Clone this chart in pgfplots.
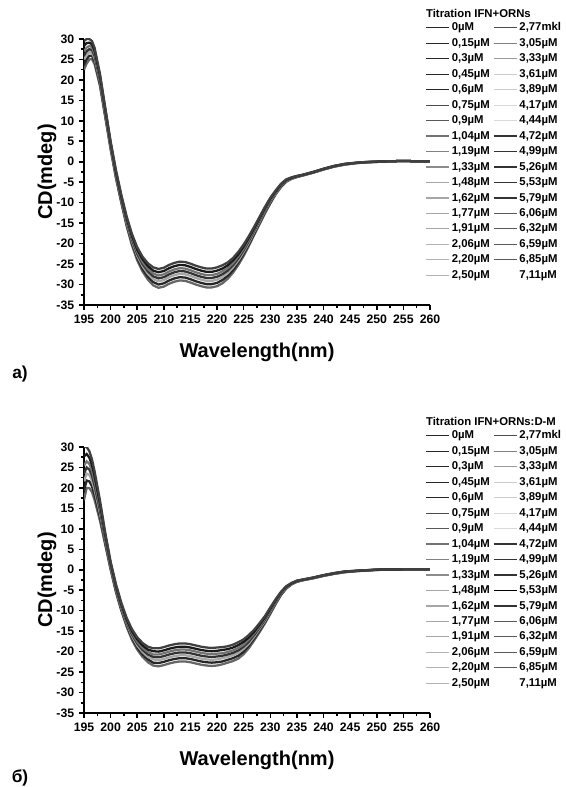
\documentclass[border=0pt]{standalone}
\usepackage{fontspec}
\setmainfont{Liberation Sans}
\usepackage{pgfplots}
\usepackage{pgfplotstable}
\pgfplotsset{compat=1.18}

% CD spectra, panel a (IFN+ORNs) -- 7 traces of the titration band
\pgfplotstableread{
x     a1     a2     a3     a4     a5     a6     a7
195   22.5   23.7   25.0   26.0   27.0   28.3   29.5
195.5 24.0   25.1   26.1   27.0   27.9   29.0   30.0
196   25.0   25.9   26.8   27.5   28.3   29.1   30.0
196.5 25.1   25.9   26.6   27.3   28.0   28.7   29.5
197   23.8   24.5   25.2   25.8   26.4   27.1   27.8
198   18.5   19.0   19.6   20.0   20.5   21.0   21.5
199   10.8   11.2   11.6   12.0   12.4   12.8   13.2
200    3.0    3.4    3.7    4.0    4.3    4.7    5.0
201   -4.0   -3.7   -3.3   -3.0   -2.7   -2.4   -2.0
202  -10.0   -9.7   -9.3   -9.0   -8.7   -8.4   -8.0
203  -15.7  -15.3  -14.9  -14.5  -14.1  -13.7  -13.3
204  -20.4  -19.9  -19.4  -19.0  -18.6  -18.1  -17.6
205  -24.1  -23.5  -23.0  -22.5  -22.0  -21.5  -20.9
206  -26.8  -26.2  -25.5  -25.0  -24.5  -23.8  -23.2
207  -28.8  -28.1  -27.4  -26.8  -26.2  -25.5  -24.8
208  -30.2  -29.4  -28.7  -28.0  -27.3  -26.6  -25.8
209  -30.8  -30.0  -29.2  -28.5  -27.8  -27.0  -26.2
210  -30.5  -29.7  -28.9  -28.2  -27.5  -26.7  -25.9
211  -29.8  -29.0  -28.2  -27.5  -26.8  -26.0  -25.2
212  -29.3  -28.5  -27.7  -27.0  -26.3  -25.5  -24.7
213  -29.0  -28.2  -27.4  -26.7  -26.0  -25.2  -24.4
214  -29.1  -28.3  -27.5  -26.8  -26.1  -25.3  -24.5
215  -29.5  -28.7  -27.9  -27.2  -26.5  -25.7  -24.9
216  -30.0  -29.2  -28.4  -27.7  -27.0  -26.2  -25.4
217  -30.4  -29.6  -28.8  -28.1  -27.4  -26.6  -25.8
218  -30.7  -29.9  -29.1  -28.4  -27.7  -26.9  -26.1
219  -30.7  -29.9  -29.1  -28.4  -27.7  -26.9  -26.1
220  -30.4  -29.6  -28.8  -28.1  -27.4  -26.6  -25.8
221  -29.7  -28.9  -28.2  -27.5  -26.8  -26.1  -25.3
222  -28.6  -27.9  -27.2  -26.6  -26.0  -25.3  -24.6
223  -27.1  -26.5  -25.8  -25.3  -24.8  -24.1  -23.5
224  -25.2  -24.6  -24.1  -23.6  -23.1  -22.6  -22.0
225  -23.0  -22.5  -22.0  -21.6  -21.2  -20.7  -20.2
226  -20.5  -20.1  -19.7  -19.3  -18.9  -18.5  -18.1
227  -17.8  -17.5  -17.1  -16.8  -16.5  -16.2  -15.8
228  -15.2  -14.9  -14.6  -14.3  -14.0  -13.7  -13.4
229  -12.6  -12.3  -12.0  -11.8  -11.6  -11.3  -11.0
230  -10.2  -10.0   -9.7   -9.5   -9.3   -9.0   -8.8
231   -8.0   -7.8   -7.7   -7.5   -7.3   -7.2   -7.0
232   -6.2   -6.1   -5.9   -5.8   -5.7   -5.5   -5.4
233   -4.9   -4.8   -4.7   -4.6   -4.5   -4.4   -4.3
234   -4.2   -4.1   -4.1   -4.0   -3.9   -3.9   -3.8
235   -3.75  -3.7   -3.65  -3.6   -3.55  -3.5   -3.45
236   -3.4   -3.37  -3.33  -3.3   -3.27  -3.23  -3.2
238   -2.7   -2.67  -2.63  -2.6   -2.57  -2.53  -2.5
240   -1.9   -1.87  -1.83  -1.8   -1.77  -1.73  -1.7
242   -1.2   -1.17  -1.13  -1.1   -1.07  -1.03  -1.0
244   -0.7   -0.67  -0.63  -0.6   -0.57  -0.53  -0.5
246   -0.35  -0.33  -0.32  -0.3   -0.28  -0.27  -0.25
248   -0.15  -0.13  -0.12  -0.1   -0.08  -0.07  -0.05
250   -0.05  -0.03  -0.02   0.0    0.02   0.03   0.05
252    0.1    0.1    0.1    0.1    0.1    0.1    0.1
255    0.2    0.2    0.2    0.2    0.2    0.2    0.2
258    0.1    0.1    0.1    0.1    0.1    0.1    0.1
260    0.1    0.1    0.1    0.1    0.1    0.1    0.1
}\tabA

% panel b (IFN+ORNs:D-M)
\pgfplotstableread{
x     a1     a2     a3     a4     a5     a6     a7
195   17.0   19.3   21.6   23.5   25.5   27.7   30.0
195.5 20.0   21.8   23.5   25.0   26.5   28.3   30.0
196   20.0   21.6   23.2   24.5   25.9   27.4   29.0
196.5 19.0   20.4   21.8   23.0   24.2   25.6   27.0
197   17.0   18.2   19.5   20.5   21.6   22.8   24.0
198   12.0   12.9   13.8   14.5   15.3   16.1   17.0
199    6.0    6.5    7.1    7.5    8.0    8.5    9.0
200    0.0    0.4    0.7    1.0    1.3    1.7    2.0
201   -5.5   -5.2   -4.8   -4.5   -4.2   -3.9   -3.5
202  -10.0   -9.7   -9.3   -9.0   -8.7   -8.4   -8.0
203  -13.9  -13.5  -13.1  -12.8  -12.5  -12.1  -11.7
204  -17.1  -16.6  -16.2  -15.8  -15.4  -15.0  -14.5
205  -19.5  -19.0  -18.5  -18.0  -17.6  -17.0  -16.5
206  -21.3  -20.7  -20.1  -19.6  -19.1  -18.5  -17.9
207  -22.6  -21.9  -21.3  -20.7  -20.1  -19.5  -18.8
208  -23.4  -22.7  -21.9  -21.3  -20.7  -19.9  -19.2
209  -23.6  -22.8  -22.1  -21.4  -20.7  -20.0  -19.2
210  -23.3  -22.5  -21.8  -21.1  -20.4  -19.7  -18.9
211  -22.9  -22.1  -21.4  -20.7  -20.0  -19.3  -18.5
212  -22.6  -21.8  -21.1  -20.4  -19.7  -19.0  -18.2
213  -22.4  -21.6  -20.9  -20.2  -19.5  -18.8  -18.0
214  -22.4  -21.6  -20.9  -20.2  -19.5  -18.8  -18.0
215  -22.6  -21.8  -21.1  -20.4  -19.7  -19.0  -18.2
216  -22.9  -22.1  -21.4  -20.7  -20.0  -19.3  -18.5
217  -23.2  -22.4  -21.7  -21.0  -20.3  -19.6  -18.8
218  -23.4  -22.6  -21.9  -21.2  -20.5  -19.8  -19.0
219  -23.5  -22.7  -22.0  -21.3  -20.6  -19.9  -19.1
220  -23.4  -22.6  -21.9  -21.2  -20.5  -19.8  -19.0
221  -23.1  -22.4  -21.6  -21.0  -20.4  -19.6  -18.9
222  -22.7  -22.0  -21.3  -20.7  -20.1  -19.4  -18.7
223  -22.3  -21.6  -20.9  -20.3  -19.7  -19.0  -18.3
224  -21.7  -21.0  -20.3  -19.7  -19.1  -18.4  -17.7
225  -20.6  -20.0  -19.3  -18.8  -18.3  -17.6  -17.0
226  -19.1  -18.5  -18.0  -17.5  -17.0  -16.5  -15.9
227  -17.2  -16.7  -16.3  -15.9  -15.5  -15.1  -14.6
228  -15.2  -14.8  -14.4  -14.1  -13.8  -13.4  -13.0
229  -13.1  -12.8  -12.5  -12.2  -11.9  -11.6  -11.3
230  -10.8  -10.5  -10.2  -10.0   -9.8   -9.5   -9.2
231   -8.4   -8.2   -8.0   -7.8   -7.6   -7.4   -7.2
232   -6.2   -6.1   -5.9   -5.8   -5.7   -5.5   -5.4
233   -4.6   -4.5   -4.4   -4.3   -4.2   -4.1   -4.0
234   -3.6   -3.5   -3.5   -3.4   -3.3   -3.3   -3.2
235   -2.95  -2.9   -2.85  -2.8   -2.75  -2.7   -2.65
236   -2.6   -2.57  -2.53  -2.5   -2.47  -2.43  -2.4
238   -2.1   -2.07  -2.03  -2.0   -1.97  -1.93  -1.9
240   -1.5   -1.47  -1.43  -1.4   -1.37  -1.33  -1.3
242   -1.0   -0.97  -0.93  -0.9   -0.87  -0.83  -0.8
244   -0.6   -0.57  -0.53  -0.5   -0.47  -0.43  -0.4
246   -0.35  -0.33  -0.32  -0.3   -0.28  -0.27  -0.25
248   -0.2   -0.18  -0.17  -0.15  -0.13  -0.12  -0.1
250   -0.05  -0.03  -0.02   0.0    0.02   0.03   0.05
252    0.05   0.05   0.05   0.05   0.05   0.05   0.05
255    0.1    0.1    0.1    0.1    0.1    0.1    0.1
258    0.1    0.1    0.1    0.1    0.1    0.1    0.1
260    0.1    0.1    0.1    0.1    0.1    0.1    0.1
}\tabB

\pgfplotsset{
  cdaxis/.style={
    scale only axis, width=259.5pt, height=199.5pt,
    xmin=195, xmax=260, ymin=-35, ymax=30,
    axis x line*=bottom, axis y line*=left,
    axis line style={line width=1.3pt, -},
    xtick={195,200,...,260}, ytick={-35,-30,...,30},
    minor x tick num=1, minor y tick num=1,
    tick align=outside, major tick length=3.8pt, minor tick length=2.5pt,
    every tick/.style={black, line width=1.2pt},
    /pgf/number format/assume math mode=true,
    tick label style={font=\bfseries\fontsize{9.2}{10}\selectfont},
    xlabel={Wavelength(nm)}, ylabel={CD(mdeg)},
    label style={font=\bfseries\fontsize{15}{17}\selectfont},
    xlabel style={at={(axis description cs:0.5,-0.177)}, anchor=center},
    ylabel style={at={(axis description cs:-0.107,0.5)}, anchor=center, rotate=0},
    clip mode=individual,
    legend columns=2,
    legend cell align=left,
    legend style={draw=none, fill=none, inner sep=0pt,
      at={(axis description cs:0.987,1.066)}, anchor=north west,
      font=\bfseries\fontsize{8.5}{9}\selectfont,
      nodes={inner sep=0.6pt, text height=6.3pt, text depth=1.6pt},
      row sep=2.5pt, column sep=1pt,
      /tikz/every even column/.append style={column sep=2pt}},
  },
  trace/.style={line width=1.7pt, forget plot},
}

\newcommand{\titrlegend}[1]{%
  \addlegendimage{black!85, line width=0.9pt}\addlegendentry{0µM}
  \addlegendimage{black!70, line width=0.9pt}\addlegendentry{2,77mkl}
  \addlegendimage{black!85, line width=0.9pt}\addlegendentry{0,15µM}
  \addlegendimage{black!50, line width=0.9pt}\addlegendentry{3,05µM}
  \addlegendimage{black!85, line width=0.9pt}\addlegendentry{0,3µM}
  \addlegendimage{black!40, line width=0.9pt}\addlegendentry{3,33µM}
  \addlegendimage{black!85, line width=0.9pt}\addlegendentry{0,45µM}
  \addlegendimage{black!20, line width=0.9pt}\addlegendentry{3,61µM}
  \addlegendimage{black!85, line width=0.9pt}\addlegendentry{0,6µM}
  \addlegendimage{black!20, line width=0.9pt}\addlegendentry{3,89µM}
  \addlegendimage{black!70, line width=0.9pt}\addlegendentry{0,75µM}
  \addlegendimage{black!15, line width=0.9pt}\addlegendentry{4,17µM}
  \addlegendimage{black!65, line width=0.9pt}\addlegendentry{0,9µM}
  \addlegendimage{black!15, line width=0.9pt}\addlegendentry{4,44µM}
  \addlegendimage{black!55, line width=0.9pt}\addlegendentry{1,04µM}
  \addlegendimage{black!80, line width=0.9pt}\addlegendentry{4,72µM}
  \addlegendimage{black!50, line width=0.9pt}\addlegendentry{1,19µM}
  \addlegendimage{black!80, line width=0.9pt}\addlegendentry{4,99µM}
  \addlegendimage{black!45, line width=0.9pt}\addlegendentry{1,33µM}
  \addlegendimage{black!80, line width=0.9pt}\addlegendentry{5,26µM}
  \addlegendimage{black!35, line width=0.9pt}\addlegendentry{1,48µM}
  \addlegendimage{#1, line width=0.9pt}\addlegendentry{5,53µM}
  \addlegendimage{black!35, line width=0.9pt}\addlegendentry{1,62µM}
  \addlegendimage{black!80, line width=0.9pt}\addlegendentry{5,79µM}
  \addlegendimage{black!35, line width=0.9pt}\addlegendentry{1,77µM}
  \addlegendimage{black!65, line width=0.9pt}\addlegendentry{6,06µM}
  \addlegendimage{black!35, line width=0.9pt}\addlegendentry{1,91µM}
  \addlegendimage{black!65, line width=0.9pt}\addlegendentry{6,32µM}
  \addlegendimage{black!30, line width=0.9pt}\addlegendentry{2,06µM}
  \addlegendimage{black!65, line width=0.9pt}\addlegendentry{6,59µM}
  \addlegendimage{black!30, line width=0.9pt}\addlegendentry{2,20µM}
  \addlegendimage{black!65, line width=0.9pt}\addlegendentry{6,85µM}
  \addlegendimage{black!30, line width=0.9pt}\addlegendentry{2,50µM}
  \addlegendimage{white, line width=0.9pt}\addlegendentry{7,11µM}
}

\newcommand{\traces}[1]{%
  \addplot[trace, black!60] table[x=x, y=a1] {#1};
  \addplot[trace, black!85] table[x=x, y=a2] {#1};
  \addplot[trace, black!35] table[x=x, y=a3] {#1};
  \addplot[trace, black!80] table[x=x, y=a4] {#1};
  \addplot[trace, black!55] table[x=x, y=a5] {#1};
  \addplot[trace, black!90] table[x=x, y=a6] {#1};
  \addplot[trace, black!75] table[x=x, y=a7] {#1};
}

\begin{document}
\begin{tikzpicture}
\path[use as bounding box] (0pt,0pt) rectangle (423.75pt,590.25pt);

\begin{axis}[cdaxis, at={(63pt,361.5pt)}, anchor=south west]
  \traces{\tabA}
  \titrlegend{black!80}
  \node[anchor=west, font=\bfseries\fontsize{8.5}{9}\selectfont, inner sep=0pt]
    at (axis description cs:0.988,1.095) {Titration IFN+ORNs};
  \node[font=\bfseries\fontsize{13}{14}\selectfont]
    at (axis description cs:-0.185,-0.259) {a)};
\end{axis}

\begin{axis}[cdaxis, at={(63pt,55.5pt)}, anchor=south west]
  \traces{\tabB}
  \titrlegend{black}
  \node[anchor=west, font=\bfseries\fontsize{8.5}{9}\selectfont, inner sep=0pt]
    at (axis description cs:0.988,1.095) {Titration IFN+ORNs:D-M};
  \node[font=\bfseries\fontsize{13}{14}\selectfont]
    at (axis description cs:-0.185,-0.244) {б)};
\end{axis}
\end{tikzpicture}
\end{document}
